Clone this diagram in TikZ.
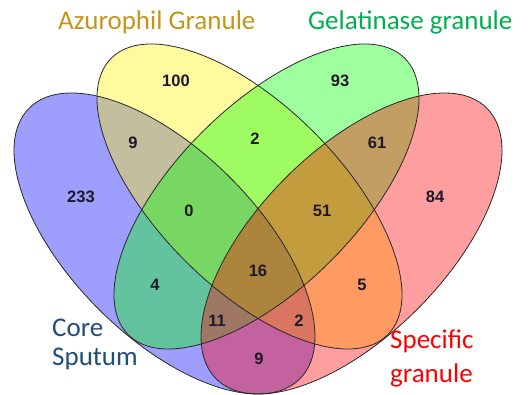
\documentclass[tikz,border=0pt]{standalone}
\usepackage{fontspec}
\setmainfont{Carlito}
\newfontfamily\numfont{Liberation Sans}
\definecolor{azurcol}{RGB}{197,150,22}
\definecolor{gelcol}{RGB}{0,176,80}
\definecolor{corecol}{RGB}{31,78,121}
\definecolor{speccol}{RGB}{255,0,0}
\definecolor{edgecol}{RGB}{40,40,40}
\definecolor{numcol}{RGB}{30,25,40}
\begin{document}
\begin{tikzpicture}[x=1pt,y=1pt,
  setfill/.style={fill=#1, fill opacity=0.38},
  setedge/.style={draw=edgecol, line width=0.8pt},
  num/.style={font=\numfont\bfseries\fontsize{16.5}{16.5}\selectfont, text=numcol, inner sep=0pt},
  lab/.style={font=\fontsize{27}{29}\selectfont, anchor=base west, align=left, inner sep=0pt}
]
\useasboundingbox (0,0) rectangle (528,395);
% fills: blue, yellow, green, red
\path[setfill=blue]   [rotate around={-45:(164.5,151.5)}] (164.5,151.5) ellipse [x radius=191.4, y radius=93];
\path[setfill=yellow] [rotate around={-45:(249.5,198.5)}] (249.5,198.5) ellipse [x radius=195.5, y radius=91];
\path[setfill=green]  [rotate around={45:(266.5,198.5)}] (266.5,198.5) ellipse [x radius=195.5, y radius=91];
\path[setfill=red]    [rotate around={45:(351.5,151.5)}] (351.5,151.5) ellipse [x radius=191.4, y radius=93];
% outlines
\draw[setedge] [rotate around={-45:(164.5,151.5)}] (164.5,151.5) ellipse [x radius=191.4, y radius=93];
\draw[setedge] [rotate around={-45:(249.5,198.5)}] (249.5,198.5) ellipse [x radius=195.5, y radius=91];
\draw[setedge] [rotate around={45:(266.5,198.5)}] (266.5,198.5) ellipse [x radius=195.5, y radius=91];
\draw[setedge] [rotate around={45:(351.5,151.5)}] (351.5,151.5) ellipse [x radius=191.4, y radius=93];
% counts
\node[num] (nB)    at (176,314) {100};
\node[num] (nC)    at (340,314) {93};
\node[num] (nAB)   at (133,252) {9};
\node[num] (nBC)   at (255,256) {2};
\node[num] (nCD)   at (377,252) {61};
\node[num] (nA)    at (81,198)  {233};
\node[num] (nD)    at (435,198) {84};
\node[num] (nABC)  at (189,184) {0};
\node[num] (nBCD)  at (322,184) {51};
\node[num] (nABCD) at (258,124) {16};
\node[num] (nAC)   at (155,110) {4};
\node[num] (nBD)   at (362,110) {5};
\node[num] (nACD)  at (217,74)  {11};
\node[num] (nABD)  at (299,74)  {2};
\node[num] (nAD)   at (259,36)  {9};
% set labels
\node[lab, text=azurcol] (lAzur) at (58,365) {Azurophil Granule};
\node[lab, text=gelcol]  (lGel)  at (308,365) {Gelatinase granule};
\node[lab, text=corecol] (lCore) at (52,29) {Core\\Sputum};
\node[lab, text=speccol, font=\fontsize{27}{34}\selectfont] (lSpec) at (390,12) {Specific\\granule};
\end{tikzpicture}
\end{document}
